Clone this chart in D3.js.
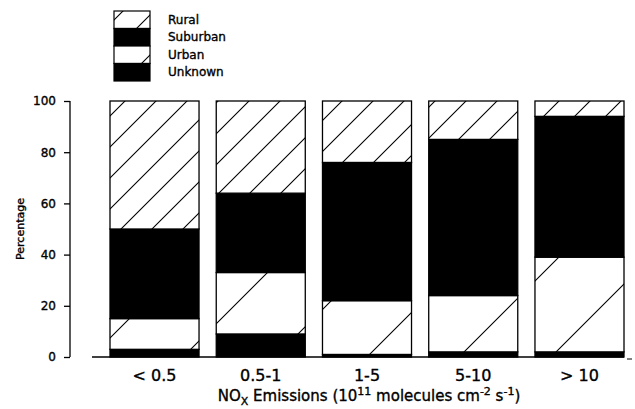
<!DOCTYPE html>
<html>
<head>
<meta charset="utf-8">
<script src="https://cdn.jsdelivr.net/npm/d3@7"></script>
<style>
  body { margin: 0; background: #fff; }
  text { font-family: "DejaVu Sans", sans-serif; fill: #000; stroke: #000; stroke-width: 0.35px; }
</style>
</head>
<body>
<div id="chart"></div>
<script>
// emission classes and the share of each site type (percent)
const categories = ["< 0.5", "0.5-1", "1-5", "5-10", "> 10"];
const unknown  = [3, 9, 1, 2, 2];
const urban    = [12, 24, 21, 22, 37];
const suburban = [35, 31, 54, 61, 55];
const rural    = [50, 36, 24, 15, 6];
const yTicks = [0, 20, 40, 60, 80, 100];
const legendLabels = ["Rural", "Suburban", "Urban", "Unknown"];

const width = 635, height = 409;

const svg = d3.select("#chart")
  .append("svg")
    .attr("width", width)
    .attr("height", height);

// hatch patterns (lines at 45 degrees, fixed in page space)
const defs = svg.append("defs");
function hatch(id, s, shift) {
  const p = defs.append("pattern")
    .attr("id", id)
    .attr("patternUnits", "userSpaceOnUse")
    .attr("width", s)
    .attr("height", s)
    .attr("patternTransform", `translate(${shift},0)`);
  p.append("rect").attr("width", s).attr("height", s).attr("fill", "#fff");
  p.append("path")
    .attr("d", `M-4,${s + 4} L${s + 4},-4 M-4,4 L4,-4 M${s - 4},${s + 4} L${s + 4},${s - 4}`)
    .attr("stroke", "#000")
    .attr("stroke-width", 1.1);
}
hatch("ruralHatch", 31, 9);
hatch("urbanHatch", 92, 80);

const fills = {
  Unknown: "#000",
  Urban: "url(#urbanHatch)",
  Suburban: "#000",
  Rural: "url(#ruralHatch)"
};

// scales
const x = d3.scaleBand()
  .domain(categories)
  .range([110, 624])
  .paddingInner(0.162)
  .paddingOuter(0);

const y = d3.scaleLinear()
  .domain([0, 100])
  .range([357, 101]);

// stacked data
const rows = categories.map((c, i) => ({
  cat: c, Unknown: unknown[i], Urban: urban[i], Suburban: suburban[i], Rural: rural[i]
}));
const stack = d3.stack().keys(["Unknown", "Urban", "Suburban", "Rural"]);
const series = stack(rows);

const g = svg.append("g");
g.selectAll(".layer")
  .data(series)
  .join("g")
    .attr("class", "layer")
    .attr("fill", d => fills[d.key])
  .selectAll("rect")
  .data(d => d)
  .join("rect")
    .attr("x", d => x(d.data.cat))
    .attr("y", d => y(d[1]))
    .attr("width", x.bandwidth())
    .attr("height", d => y(d[0]) - y(d[1]))
    .attr("stroke", "#000")
    .attr("stroke-width", 1.3);

// y axis
const yAxis = d3.axisLeft(y)
  .tickValues(yTicks)
  .tickSize(6)
  .tickPadding(8);
svg.append("g")
    .attr("transform", "translate(70,0)")
    .call(yAxis)
    .call(a => a.select(".domain").attr("stroke-width", 1.3).attr("d", `M0,${y(0)}V${y(100)}`))
    .call(a => a.selectAll(".tick line").attr("stroke-width", 1.3))
    .call(a => a.selectAll(".tick text")
      .style("font-family", "DejaVu Sans")
      .style("font-size", "12px"));

svg.append("text")
    .attr("transform", `translate(24,${y(50)}) rotate(-90)`)
    .attr("text-anchor", "middle")
    .style("font-size", "11px")
    .text("Percentage");

// baseline
svg.append("line")
    .attr("x1", 92).attr("x2", 624)
    .attr("y1", y(0)).attr("y2", y(0))
    .attr("stroke", "#000")
    .attr("stroke-width", 1.6);
svg.append("line")
    .attr("x1", 627).attr("x2", 632)
    .attr("y1", y(0) + 2).attr("y2", y(0) + 2)
    .attr("stroke", "#000")
    .attr("stroke-width", 1);

// x tick labels
svg.selectAll(".xlab")
  .data(categories)
  .join("text")
    .attr("class", "xlab")
    .attr("x", d => x(d) + x.bandwidth() / 2)
    .attr("y", 381)
    .attr("text-anchor", "middle")
    .style("font-size", "16px")
    .text(d => d);

// x axis title
const title = svg.append("text")
    .attr("x", 369)
    .attr("y", 401)
    .attr("text-anchor", "middle")
    .style("font-size", "15px");
title.append("tspan").text("NO");
title.append("tspan").attr("dy", 4).style("font-size", "11px").text("X");
title.append("tspan").attr("dy", -4).text(" Emissions (10");
title.append("tspan").attr("dy", -6).style("font-size", "11px").text("11");
title.append("tspan").attr("dy", 6).text(" molecules cm");
title.append("tspan").attr("dy", -6).style("font-size", "11px").text("-2");
title.append("tspan").attr("dy", 6).text(" s");
title.append("tspan").attr("dy", -6).style("font-size", "11px").text("-1");
title.append("tspan").attr("dy", 6).text(")");

// legend
const legend = svg.append("g").attr("transform", "translate(114,11)");
const sw = 17.5;
legend.selectAll("rect")
  .data(legendLabels)
  .join("rect")
    .attr("x", 0)
    .attr("y", (d, i) => i * sw)
    .attr("width", 36)
    .attr("height", sw)
    .attr("fill", d => fills[d])
    .attr("stroke", "#000")
    .attr("stroke-width", 1.2);
legend.selectAll("text")
  .data(legendLabels)
  .join("text")
    .attr("x", 54)
    .attr("y", (d, i) => i * sw + sw / 2)
    .attr("dy", "0.35em")
    .style("font-size", "12px")
    .text(d => d);
</script>
</body>
</html>
